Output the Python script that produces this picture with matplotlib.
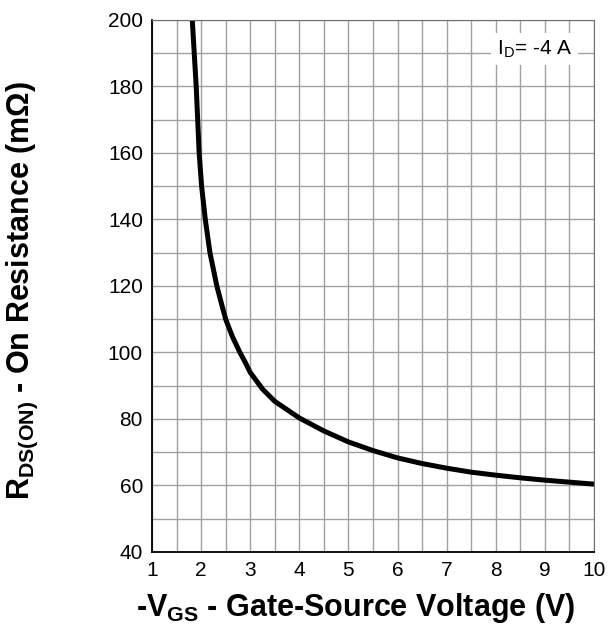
import matplotlib
matplotlib.use('Agg')
from matplotlib import pyplot as plt
import numpy as np

plt.rcParams['font.family'] = ['Liberation Sans', 'DejaVu Sans']
plt.rcParams['mathtext.fontset'] = 'custom'
plt.rcParams['mathtext.rm'] = 'Liberation Sans'
plt.rcParams['mathtext.bf'] = 'Liberation Sans:bold'

# values
vgs = [1.82, 1.86, 1.90, 1.93, 1.96, 2.01, 2.085, 2.18, 2.32, 2.4, 2.5, 2.63, 2.79, 2.9,
       3.0, 3.25, 3.5, 4.0, 4.5, 5.0, 5.5, 6.0, 6.5, 7.0, 7.5, 8.0, 8.5, 9.0, 9.5, 10.0]
rds = [200, 190, 180, 170, 160, 150, 140, 130, 120, 115.5, 110, 105, 100, 97,
       94, 89, 85.3, 80.3, 76.4, 73.1, 70.5, 68.3, 66.6, 65.2, 64, 63.1, 62.3, 61.6, 61, 60.4]
xticks = [1, 2, 3, 4, 5, 6, 7, 8, 9, 10]
yticks = [40, 60, 80, 100, 120, 140, 160, 180, 200]

fig = plt.figure(figsize=(6.09, 6.36), dpi=100)
ax = fig.add_axes([0.2496, 0.1321, 0.7258, 0.8365])

ax.plot(vgs, rds, color='black', lw=3.6, solid_capstyle='butt', solid_joinstyle='round')

ax.set_xlim(1, 10)
ax.set_ylim(40, 200)
ax.set_xticks(xticks)
ax.set_yticks(yticks)
ax.set_xticks(np.arange(1, 10.01, 0.5), minor=True)
ax.set_yticks(np.arange(40, 200.1, 10), minor=True)
ax.grid(True, which='both', color='#a0a0a0', lw=1)
ax.set_axisbelow(True)
ax.tick_params(which='both', length=0, labelsize=15, pad=6.5)

for s in ['top', 'right']:
    ax.spines[s].set_color('#707070')
for s in ['left', 'bottom']:
    ax.spines[s].set_color('black')
    ax.spines[s].set_linewidth(1.3)

# I_D annotation with white box over the grid
ax.text(8.02, 189.7, r'I$_\mathrm{D}$= -4 A', fontsize=15, ha='left', va='baseline',
        bbox=dict(facecolor='white', edgecolor='none', pad=4))

fig.text(356/609, 1 - 608/636, r'-$\mathbf{V_{GS}}$ - Gate-Source Voltage (V)',
         fontsize=22, fontweight='bold', ha='center', va='center')
fig.text(22/609, 1 - 291/636, r'$\mathbf{R_{DS(ON)}}$ - On Resistance (m$\mathbf{\Omega}$)',
         fontsize=22, fontweight='bold', ha='center', va='center', rotation=90)

plt.savefig('out.png', dpi=100)
